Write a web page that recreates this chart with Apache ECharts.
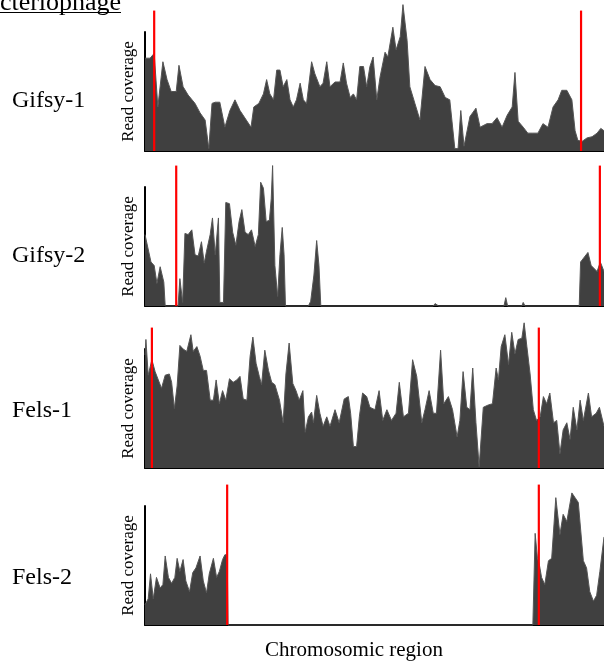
<!DOCTYPE html>
<html>
<head>
<meta charset="utf-8">
<script src="https://cdn.jsdelivr.net/npm/echarts@6/dist/echarts.min.js"></script>
<style>
  html, body { margin: 0; padding: 0; background: #fff; }
  #chart { width: 604px; height: 666px; }
</style>
</head>
<body>
<div id="chart"></div>
<script>
var chart = echarts.init(document.getElementById('chart'));

// phage names, one panel each
const phages = ['Gifsy-1', 'Gifsy-2', 'Fels-1', 'Fels-2'];

// read coverage along the region: [position %, coverage]
const gifsy1 = [[0,78],[1.1,78],[2.0,82],[2.8,37],[3.9,75],[4.8,60],[5.7,50],[6.8,50],[7.4,72],[8.3,54],[9.4,47],[10.9,40],[12.0,32],[13.1,26],[13.9,2],[14.6,40],[15.3,41],[16.3,41],[17.4,20],[18.5,34],[19.6,43],[20.7,34],[23.1,20],[23.7,37],[24.8,40],[25.8,48],[26.5,60],[27.2,48],[28.0,43],[28.7,68],[29.4,68],[30.1,54],[30.9,60],[31.6,43],[32.3,37],[33.0,43],[33.8,57],[34.5,43],[35.2,40],[36.3,75],[37.0,65],[38.1,54],[38.8,57],[39.6,75],[40.3,54],[41.4,58],[42.5,58],[43.2,74],[43.9,57],[44.7,45],[45.4,48],[46.1,43],[46.8,71],[47.6,71],[48.3,54],[49.0,71],[49.7,79],[50.5,43],[51.2,62],[52.3,83],[52.9,79],[54.0,104],[54.7,85],[55.6,96],[56.2,123],[57.1,93],[57.7,54],[58.8,40],[59.9,26],[61.0,71],[62.1,60],[63.2,55],[64.3,54],[65.4,45],[66.4,43],[67.5,2],[68.2,2],[68.8,34],[69.5,4],[70.8,29],[72.1,36],[73.0,20],[74.5,23],[75.6,23],[76.7,28],[77.8,20],[78.9,30],[80.0,37],[80.6,66],[81.3,25],[82.4,20],[83.4,15],[84.5,15],[85.6,15],[86.7,23],[87.8,20],[88.9,37],[90.0,43],[90.8,51],[91.9,51],[93.0,43],[93.7,17],[94.3,9],[95.2,8],[96.3,11],[97.4,12],[98.5,15],[99.3,19],[100,17]];
const gifsy2 = [[0,60],[0.4,61],[1.3,37],[2.0,34],[2.6,19],[3.3,33],[3.7,34],[4.1,20],[4.4,0],[7.2,0],[7.6,23],[8.2,3],[8.7,61],[9.4,60],[10.2,64],[10.9,43],[11.6,42],[12.3,54],[12.9,36],[13.4,46],[14.2,60],[14.7,74],[15.3,43],[16.0,74],[16.3,3],[17.1,3],[17.6,87],[18.4,86],[19.1,62],[19.8,51],[20.5,71],[21.1,81],[21.8,62],[22.5,60],[23.2,64],[24.0,50],[24.7,60],[25.2,104],[25.8,99],[26.4,71],[27.1,72],[27.5,90],[27.8,118],[28.3,34],[28.9,8],[29.4,43],[29.9,66],[30.3,43],[30.6,0],[35.6,0],[36.1,4],[36.8,26],[37.4,55],[37.9,34],[38.3,0],[62.8,0],[63.2,2],[63.6,2],[64.0,0],[78.2,0],[78.6,7],[79.0,0],[82.1,0],[82.4,3],[82.8,0],[94.6,0],[94.9,37],[96.5,45],[97.2,34],[98.5,29],[99.2,37],[100,29]];
const fels1 = [[0,95],[0.2,108],[0.7,78],[1.5,91],[2.2,81],[2.9,74],[3.6,67],[4.4,78],[5.3,79],[5.8,72],[6.4,50],[7.0,69],[7.6,103],[8.3,100],[9.1,98],[10.0,112],[10.5,98],[11.3,102],[12.0,94],[12.7,82],[13.4,82],[14.2,57],[14.9,57],[15.5,74],[16.2,54],[16.9,65],[17.6,57],[18.4,75],[19.2,72],[20.0,74],[20.7,77],[21.4,58],[22.2,57],[22.9,94],[23.5,110],[24.2,88],[24.9,77],[25.4,70],[26.1,99],[26.9,82],[27.6,72],[28.3,70],[29.3,57],[30.1,38],[30.7,79],[31.4,105],[32.2,71],[32.9,65],[33.6,57],[34.4,65],[34.9,30],[35.6,43],[36.3,47],[36.7,38],[37.4,61],[38.1,46],[38.8,35],[39.6,43],[40.3,35],[41.4,49],[42.3,38],[43.4,58],[44.3,60],[44.8,46],[45.4,18],[46.1,18],[46.7,43],[47.4,63],[48.3,60],[49.0,51],[50.1,49],[51.0,65],[51.8,40],[52.7,49],[53.7,40],[54.7,46],[55.4,72],[56.3,43],[57.4,46],[58.3,91],[59.2,77],[60.3,38],[61.0,49],[61.9,65],[62.8,46],[63.5,46],[64.4,99],[65.1,54],[66.1,60],[67.0,49],[68.0,26],[68.6,40],[69.3,81],[70.1,51],[70.8,49],[71.4,84],[72.1,38],[72.8,1],[73.7,51],[74.8,53],[75.7,54],[76.5,84],[77.0,74],[77.6,102],[78.4,112],[79.2,87],[79.9,114],[80.6,96],[81.3,108],[82.1,109],[82.6,122],[83.2,102],[83.9,79],[84.6,49],[85.3,40],[86.1,43],[86.8,60],[87.5,54],[88.2,63],[89.0,38],[89.7,40],[90.4,12],[91.1,32],[91.9,38],[92.6,24],[93.3,51],[94.1,32],[94.8,57],[95.5,40],[96.6,63],[97.3,43],[98.3,46],[99.0,51],[100,35]];
const fels2 = [[0,17],[0.7,22],[1.2,43],[1.8,22],[2.5,40],[3.3,31],[3.9,34],[4.4,58],[5.1,40],[5.8,35],[6.5,40],[7.0,56],[7.6,45],[8.3,55],[8.9,37],[9.7,28],[10.4,44],[11.1,48],[12.0,58],[12.7,37],[13.4,27],[14.0,43],[14.9,56],[15.6,40],[16.2,45],[16.9,55],[17.4,59],[17.9,59],[18.1,0],[84.5,0],[85.0,77],[85.5,56],[85.9,51],[86.4,40],[87.1,34],[87.9,54],[88.6,56],[89.5,107],[90.4,76],[91.1,93],[91.9,87],[93.0,111],[93.7,107],[94.4,103],[95.5,54],[96.2,48],[96.9,28],[97.7,20],[98.4,25],[99.1,45],[100,74]];

// prophage borders (red lines), position %
const borders = [[2.0, 95.0], [6.8, 99.1], [1.5, 85.8], [17.9, 85.8]];
const borderTop = 118;

const coverage = [gifsy1, gifsy2, fels1, fels2];
const panelTops = [32, 187, 349, 506];
const labelY = [101, 256, 411, 578];

var serif = '"Liberation Serif", "DejaVu Serif", serif';
var grids = [], xAxes = [], yAxes = [], series = [], graphics = [];

phages.forEach(function (name, i) {
    grids.push({ left: 145, right: 0, top: panelTops[i], height: 119 });
    xAxes.push({
        type: 'value', gridIndex: i, min: 0, max: 100,
        axisLine: { show: true, onZero: false, lineStyle: { color: '#000', width: 2 } },
        axisTick: { show: false }, axisLabel: { show: false }, splitLine: { show: false }
    });
    yAxes.push({
        type: 'value', gridIndex: i, min: 0, max: 100,
        name: 'Read coverage', nameLocation: 'middle', nameGap: 8,
        nameTextStyle: { fontFamily: serif, fontSize: 17, color: '#000' },
        axisLine: { show: true, lineStyle: { color: '#000', width: 2 } },
        axisTick: { show: false }, axisLabel: { show: false }, splitLine: { show: false }
    });
    series.push({
        name: name, type: 'line', xAxisIndex: i, yAxisIndex: i,
        data: coverage[i], symbol: 'none', clip: false, z: 1,
        lineStyle: { width: 1, color: '#555' },
        areaStyle: { color: '#404040', opacity: 1 }
    });
    borders[i].forEach(function (b) {
        series.push({
            type: 'line', xAxisIndex: i, yAxisIndex: i,
            data: [[b, 0], [b, borderTop]], symbol: 'none', clip: false, z: 3,
            silent: true,
            lineStyle: { color: '#ff0000', width: 2.2 }
        });
    });
    graphics.push({
        type: 'text', x: 12, y: labelY[i],
        style: { text: name, font: '24px ' + serif, fill: '#000', align: 'left', verticalAlign: 'middle' }
    });
});

graphics.push({
    type: 'text', x: 354, y: 650,
    style: { text: 'Chromosomic region', font: '21px ' + serif, fill: '#000', align: 'center', verticalAlign: 'middle' }
});
graphics.push({
    type: 'text', x: -29, y: 3,
    style: { text: 'Bacteriophage', font: '26px ' + serif, fill: '#000', align: 'left', verticalAlign: 'middle' }
});
graphics.push({
    type: 'line', shape: { x1: 0, y1: 12.5, x2: 121, y2: 12.5 },
    style: { stroke: '#000', lineWidth: 1.2 }
});

chart.setOption({
    animation: false,
    backgroundColor: '#fff',
    grid: grids,
    xAxis: xAxes,
    yAxis: yAxes,
    series: series,
    graphic: graphics
});

window.addEventListener('resize', function () {
    chart.resize();
});
</script>
</body>
</html>
